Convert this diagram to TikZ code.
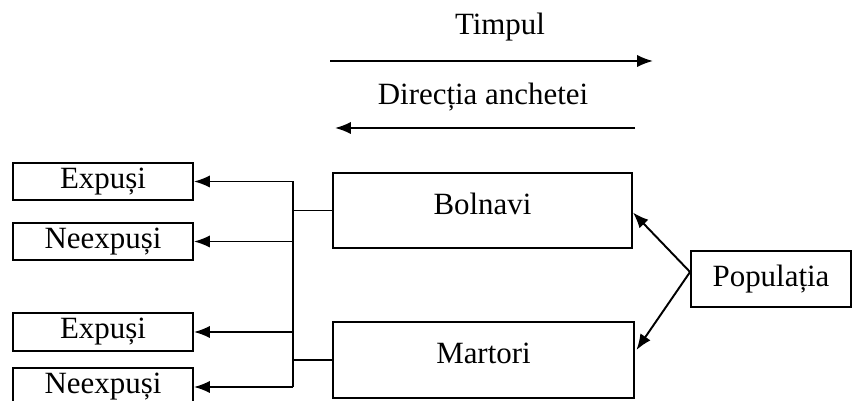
\documentclass[tikz,border=0pt]{standalone}
\usepackage{fontspec}
\setmainfont{Liberation Serif}
\usetikzlibrary{arrows.meta}

\tikzset{
  box/.style={draw, line width=1.1pt, inner sep=0pt, font=\fontsize{17.6}{20}\selectfont},
  lbl/.style={inner sep=0pt, font=\fontsize{17.6}{20}\selectfont},
  arr/.style={line width=1.1pt, -{Latex[length=9pt,width=7pt]}},
  wire/.style={line width=1.1pt}
}

\begin{document}
\begin{tikzpicture}[x=0.02cm, y=-0.02cm]
		%%%%% START %%%%%
		\useasboundingbox (0, 0) rectangle (852, 401);
		
		% time and survey direction
		\node[lbl] (timp) at (500, 27) {Timpul};
		\coordinate (t1) at (330, 61);
		\coordinate (t2) at (653, 61);
		\draw[arr] (t1) -- (t2);
		
		\node[lbl] (dir) at (483, 97) {Direcția anchetei};
		\coordinate (d1) at (635, 128);
		\coordinate (d2) at (335, 128);
		\draw[arr] (d1) -- (d2);
		
		% groups
		\node[box, text depth=0.28cm, minimum width=5.98cm, minimum height=1.5cm] (bol) at (482.5, 210.5) {Bolnavi};
		\node[box, text depth=0.28cm, minimum width=6.02cm, minimum height=1.52cm] (mar) at (483.5, 360) {Martori};
		\node[box, minimum width=3.2cm, minimum height=1.12cm] (pop) at (771, 279) {Populația};
		
		\node[box, minimum width=3.6cm, minimum height=0.74cm] (ex1) at (103, 181.5) {Expuși};
		\node[box, minimum width=3.6cm, minimum height=0.74cm] (ne1) at (103, 241.5) {Neexpuși};
		\node[box, minimum width=3.6cm, minimum height=0.76cm] (ex2) at (103, 332) {Expuși};
		\node[box, minimum width=3.6cm, minimum height=0.76cm] (ne2) at (103, 387) {Neexpuși};
		
		% population splits into both groups
		\draw[arr] ([yshift=0.14cm]pop.west) -- ([yshift=-0.04cm]bol.east);
		\draw[arr] ([yshift=0.14cm]pop.west) -- ([xshift=0.03cm, yshift=0.2cm]mar.east);
		
		% back to exposure
		\coordinate (bus) at (293, 0);
		\draw[wire] (bol.west) -- (bol.west -| bus);
		\draw[wire] (mar.west) -- (mar.west -| bus);
		\draw[wire] (bus |- ex1) -- (bus |- ne2);
		\draw[arr] (bus |- ex1) -- (ex1.east);
		\draw[arr] (bus |- ne1) -- (ne1.east);
		\draw[arr] (bus |- ex2) -- (ex2.east);
		\draw[arr] (bus |- ne2) -- (ne2.east);
		
		%%%%% END %%%%%
	\end{tikzpicture}
\end{document}
